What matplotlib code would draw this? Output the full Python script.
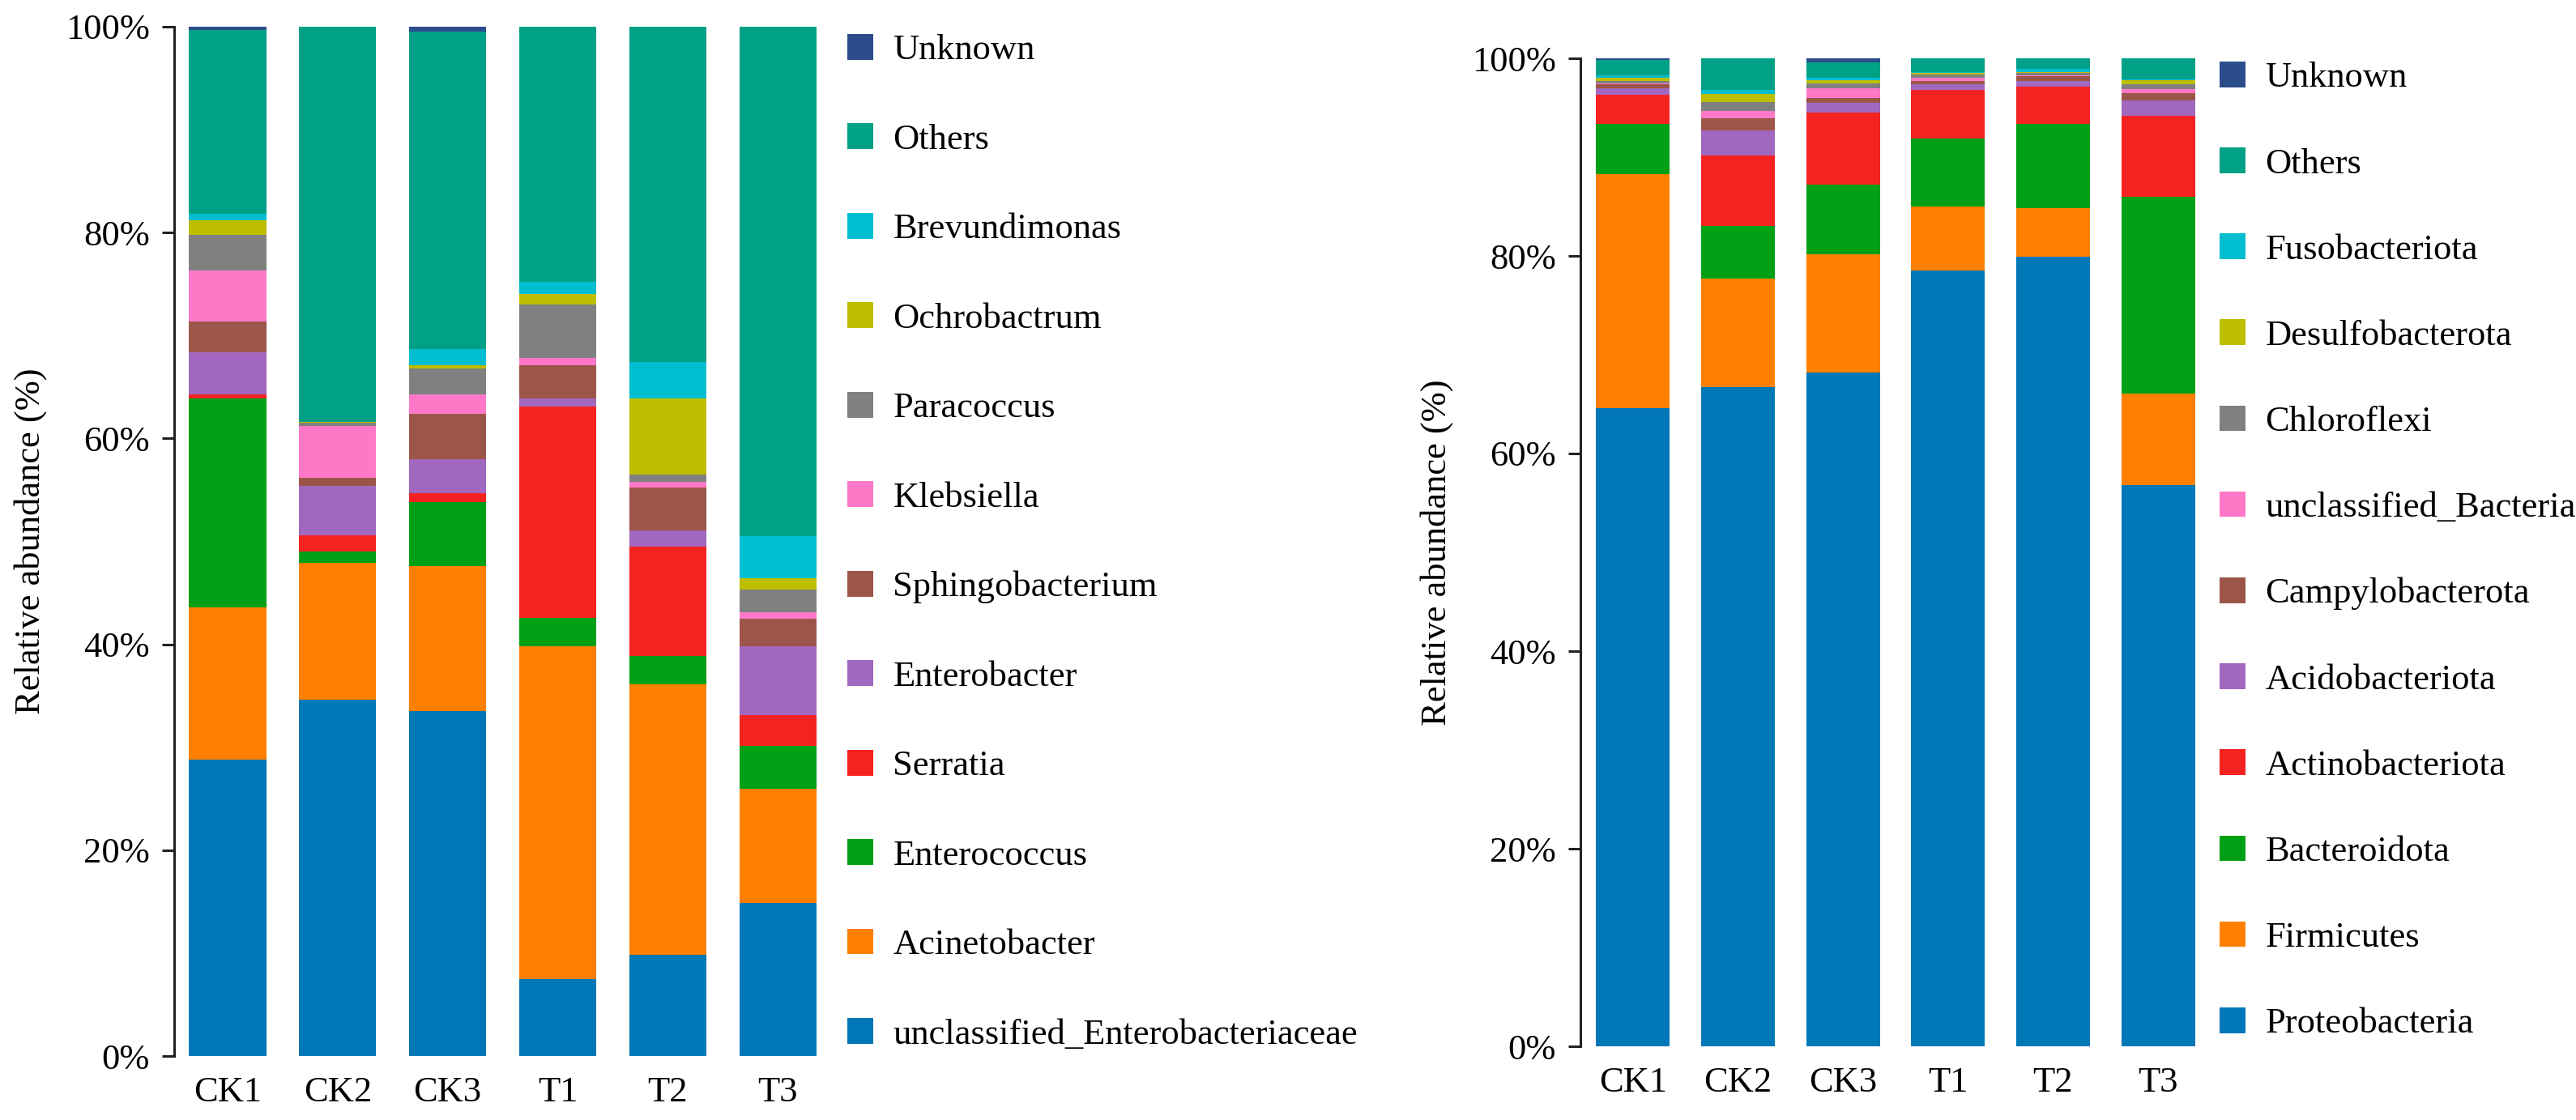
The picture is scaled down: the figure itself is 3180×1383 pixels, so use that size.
import matplotlib
matplotlib.use('Agg')
import matplotlib.pyplot as plt
import matplotlib.patches as mpatches
import numpy as np

plt.rcParams['font.family'] = ['Liberation Serif', 'DejaVu Serif']

samples = ['CK1', 'CK2', 'CK3', 'T1', 'T2', 'T3']

# ---- Genus level (left panel), stacking order bottom -> top ----
genus_names = ['unclassified_Enterobacteriaceae', 'Acinetobacter', 'Enterococcus',
               'Serratia', 'Enterobacter', 'Sphingobacterium', 'Klebsiella',
               'Paracoccus', 'Ochrobactrum', 'Brevundimonas', 'Others', 'Unknown']
g_unclassified_Enterobacteriaceae = [28.8, 34.6, 33.5, 7.5, 9.8, 14.9]
g_Acinetobacter = [14.8, 13.3, 14.1, 32.3, 26.3, 11.1]
g_Enterococcus = [20.3, 1.1, 6.2, 2.8, 2.8, 4.1]
g_Serratia = [0.4, 1.6, 0.9, 20.5, 10.6, 3.0]
g_Enterobacter = [4.1, 4.8, 3.3, 0.8, 1.6, 6.7]
g_Sphingobacterium = [3.0, 0.8, 4.4, 3.2, 4.1, 2.7]
g_Klebsiella = [4.9, 5.0, 1.9, 0.7, 0.6, 0.6]
g_Paracoccus = [3.5, 0.3, 2.5, 5.2, 0.7, 2.2]
g_Ochrobactrum = [1.4, 0.1, 0.3, 1.0, 7.4, 1.1]
g_Brevundimonas = [0.6, 0.0, 1.6, 1.2, 3.5, 4.1]
g_Others = [17.9, 38.4, 30.8, 24.8, 32.6, 49.5]
g_Unknown = [0.3, 0.0, 0.5, 0.0, 0.0, 0.0]

# ---- Phylum level (right panel), stacking order bottom -> top ----
phylum_names = ['Proteobacteria', 'Firmicutes', 'Bacteroidota', 'Actinobacteriota',
                'Acidobacteriota', 'Campylobacterota', 'unclassified_Bacteria',
                'Chloroflexi', 'Desulfobacterota', 'Fusobacteriota', 'Others', 'Unknown']
p_Proteobacteria = [64.6, 66.7, 68.2, 78.5, 79.9, 56.8]
p_Firmicutes = [23.7, 11.0, 12.0, 6.5, 4.9, 9.3]
p_Bacteroidota = [5.1, 5.3, 7.0, 6.9, 8.6, 19.9]
p_Actinobacteriota = [2.9, 7.2, 7.3, 4.9, 3.7, 8.2]
p_Acidobacteriota = [0.7, 2.5, 1.0, 0.6, 0.6, 1.5]
p_Campylobacterota = [0.4, 1.2, 0.5, 0.3, 0.5, 0.8]
p_unclassified_Bacteria = [0.1, 0.8, 1.0, 0.3, 0.1, 0.4]
p_Chloroflexi = [0.2, 0.9, 0.5, 0.4, 0.2, 0.5]
p_Desulfobacterota = [0.3, 0.8, 0.3, 0.1, 0.1, 0.4]
p_Fusobacteriota = [0.3, 0.4, 0.2, 0.1, 0.3, 0.1]
p_Others = [1.5, 3.2, 1.6, 1.4, 1.1, 2.1]
p_Unknown = [0.2, 0.0, 0.4, 0.0, 0.0, 0.0]

colors = ['#0077b6', '#ff8000', '#00a016', '#f52222', '#a267bf', '#9c5549',
          '#ff78c8', '#808080', '#bebe00', '#00bed0', '#00a186', '#2b4d8c']

yticks = [0, 20, 40, 60, 80, 100]
ytick_labels = ['0%', '20%', '40%', '60%', '80%', '100%']

genus_series = [g_unclassified_Enterobacteriaceae, g_Acinetobacter, g_Enterococcus,
                g_Serratia, g_Enterobacter, g_Sphingobacterium, g_Klebsiella,
                g_Paracoccus, g_Ochrobactrum, g_Brevundimonas, g_Others, g_Unknown]
phylum_series = [p_Proteobacteria, p_Firmicutes, p_Bacteroidota, p_Actinobacteriota,
                 p_Acidobacteriota, p_Campylobacterota, p_unclassified_Bacteria,
                 p_Chloroflexi, p_Desulfobacterota, p_Fusobacteriota, p_Others, p_Unknown]

W, H = 3180, 1383
DPI = 200
fig = plt.figure(figsize=(W / DPI, H / DPI), dpi=DPI)
fig.patch.set_facecolor('white')

FS = 16


def make_panel(rect_px, xlim_left, names, series, leg_left, leg_top, leg_spacing):
    left, top, right, bottom = rect_px
    ax = fig.add_axes([left / W, 1 - bottom / H, (right - left) / W, (bottom - top) / H])
    x = np.arange(len(samples))
    cum = np.zeros(len(samples))
    handles = []
    for name, vals, col in zip(names, series, colors):
        vals = np.asarray(vals, dtype=float)
        ax.bar(x, vals, bottom=cum, width=0.7, color=col, edgecolor='none', linewidth=0)
        cum += vals
        handles.append(mpatches.Patch(facecolor=col, edgecolor='none', label=name))
    ax.set_xlim(xlim_left, 5.5)
    ax.set_ylim(0, 100)
    ax.set_yticks(yticks)
    ax.set_yticklabels(ytick_labels)
    ax.set_xticks(x)
    ax.set_xticklabels(samples)
    for s in ['top', 'right', 'bottom']:
        ax.spines[s].set_visible(False)
    ax.spines['left'].set_linewidth(1.1)
    ax.spines['left'].set_color('#222222')
    ax.tick_params(axis='y', length=5.4, width=1.1, pad=5.5, labelsize=FS, color='#222222')
    ax.tick_params(axis='x', length=0, pad=9.0, labelsize=FS)
    ax.set_ylabel('Relative abundance (%)', fontsize=FS)
    ax.yaxis.set_label_coords(-157 / (right - left), 0.5)
    ax.legend(handles[::-1], names[::-1], loc='upper left',
              bbox_to_anchor=(leg_left / W, 1 - leg_top / H),
              bbox_transform=fig.transFigure, frameon=False, fontsize=FS,
              handlelength=0.72, handleheight=0.72, handletextpad=0.55,
              labelspacing=leg_spacing, borderpad=0, borderaxespad=0)
    return ax


ax1 = make_panel((215, 33, 1028, 1304), -0.486, genus_names, genus_series,
                 1046, 42, 1.577)
ax2 = make_panel((1951, 72, 2729, 1292), -0.5, phylum_names, phylum_series,
                 2740, 76, 1.48)

fig.savefig('out.png', dpi=DPI, facecolor='white')
